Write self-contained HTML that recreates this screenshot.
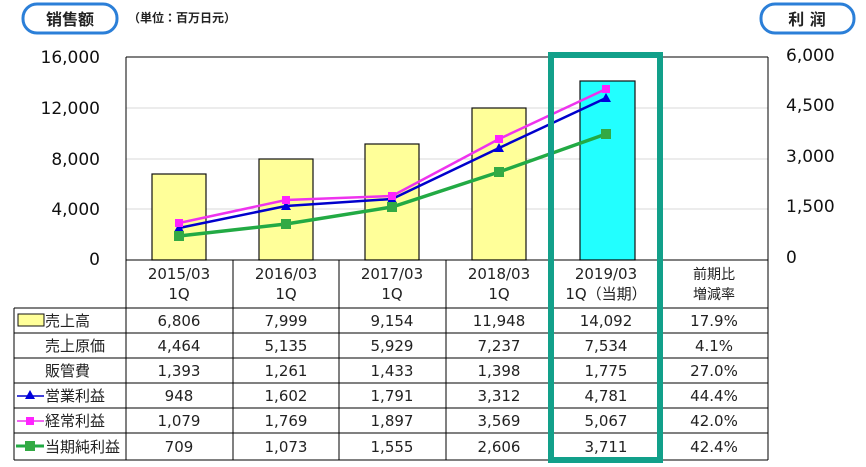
<!DOCTYPE html>
<html><head><meta charset="utf-8"><style>
body{margin:0;background:#fff;}
svg{display:block;font-family:"DejaVu Sans","Noto Sans CJK JP",sans-serif;}
</style></head><body>
<svg width="866" height="467" viewBox="0 0 866 467" xmlns="http://www.w3.org/2000/svg">
<rect width="866" height="467" fill="#fff"/>
<rect x="23" y="4" width="94" height="29" rx="14" fill="#fff" stroke="#2b7fd8" stroke-width="3"/>
<text x="70" y="25" font-size="16" font-weight="bold" text-anchor="middle" fill="#222">销售额</text>
<text x="128" y="22" font-size="12" font-weight="bold" fill="#222">（単位：百万日元）</text>
<rect x="761" y="4" width="93" height="29" rx="14" fill="#fff" stroke="#2b7fd8" stroke-width="3"/>
<text x="807" y="25" font-size="16" font-weight="bold" text-anchor="middle" fill="#222">利 润</text>
<g stroke="#d8d8d8" stroke-width="1">
<line x1="126" y1="108" x2="768" y2="108"/><line x1="126" y1="159" x2="768" y2="159"/><line x1="126" y1="209" x2="768" y2="209"/>
</g>
<g stroke="#000" stroke-width="1">
<line x1="126" y1="57" x2="768" y2="57"/>
<line x1="126" y1="57" x2="126" y2="460"/>
<line x1="768" y1="57" x2="768" y2="460"/>
</g>
<g font-size="17" fill="#111" text-anchor="end">
<text x="100" y="63">16,000</text><text x="100" y="114">12,000</text><text x="100" y="165">8,000</text><text x="100" y="215">4,000</text><text x="100" y="265">0</text>
</g>
<g font-size="17" fill="#111">
<text x="786" y="61">6,000</text><text x="786" y="111">4,500</text><text x="786" y="162">3,000</text><text x="786" y="212">1,500</text><text x="786" y="263">0</text>
</g>
<g stroke="#111" stroke-width="1.2">
<rect x="152" y="174" width="54" height="86" fill="#ffff99"/>
<rect x="259" y="159" width="54" height="101" fill="#ffff99"/>
<rect x="365" y="144" width="54" height="116" fill="#ffff99"/>
<rect x="472" y="108" width="54" height="152" fill="#ffff99"/>
<rect x="580" y="81" width="55" height="179" fill="#22ffff"/>
</g>
<polyline points="179,228 286,206 392,199 499,148 606,98" fill="none" stroke="#0000cc" stroke-width="2.5"/>
<polyline points="179,223 286,200 392,196 499,139 606,89" fill="none" stroke="#ee33ee" stroke-width="2.5"/>
<polyline points="179,236 286,224 392,207 499,172 606,134" fill="none" stroke="#22aa44" stroke-width="3.5"/>
<g fill="#0000dd"><polygon points="179,223 174,232 184,232"/><polygon points="286,201 281,210 291,210"/><polygon points="392,194 387,203 397,203"/><polygon points="499,143 494,152 504,152"/><polygon points="606,93 601,102 611,102"/></g>
<g fill="#ff22ff"><rect x="175" y="219" width="8" height="8"/><rect x="282" y="196" width="8" height="8"/><rect x="388" y="192" width="8" height="8"/><rect x="495" y="135" width="8" height="8"/><rect x="602" y="85" width="8" height="8"/></g>
<g fill="#33aa44"><rect x="174" y="231" width="10" height="10"/><rect x="281" y="219" width="10" height="10"/><rect x="387" y="202" width="10" height="10"/><rect x="494" y="167" width="10" height="10"/><rect x="601" y="129" width="10" height="10"/></g>
<g stroke="#000" stroke-width="1">
<line x1="126" y1="260" x2="768" y2="260"/>
<line x1="14" y1="308" x2="768" y2="308"/>
<line x1="14" y1="333" x2="768" y2="333"/><line x1="14" y1="358" x2="768" y2="358"/><line x1="14" y1="383" x2="768" y2="383"/><line x1="14" y1="408" x2="768" y2="408"/><line x1="14" y1="433" x2="768" y2="433"/><line x1="14" y1="460" x2="768" y2="460"/>
<line x1="14" y1="308" x2="14" y2="460"/>
<line x1="233" y1="260" x2="233" y2="460"/><line x1="339" y1="260" x2="339" y2="460"/><line x1="446" y1="260" x2="446" y2="460"/><line x1="553" y1="260" x2="553" y2="460"/><line x1="660" y1="260" x2="660" y2="460"/>
</g>
<g font-size="15" fill="#222" text-anchor="middle">
<text x="179" y="279">2015/03</text><text x="179" y="299">1Q</text>
<text x="286" y="279">2016/03</text><text x="286" y="299">1Q</text>
<text x="392" y="279">2017/03</text><text x="392" y="299">1Q</text>
<text x="499" y="279">2018/03</text><text x="499" y="299">1Q</text>
<text x="606" y="279">2019/03</text><text x="606" y="299">1Q（当期）</text>
<text x="714" y="279" font-size="14">前期比</text><text x="714" y="299" font-size="14">増減率</text>
</g>
<g font-size="15" fill="#222" text-anchor="middle">
<text x="179" y="326">6,806</text><text x="286" y="326">7,999</text><text x="392" y="326">9,154</text><text x="499" y="326">11,948</text><text x="606" y="326">14,092</text><text x="714" y="326">17.9%</text>
<text x="179" y="351">4,464</text><text x="286" y="351">5,135</text><text x="392" y="351">5,929</text><text x="499" y="351">7,237</text><text x="606" y="351">7,534</text><text x="714" y="351">4.1%</text>
<text x="179" y="376">1,393</text><text x="286" y="376">1,261</text><text x="392" y="376">1,433</text><text x="499" y="376">1,398</text><text x="606" y="376">1,775</text><text x="714" y="376">27.0%</text>
<text x="179" y="401">948</text><text x="286" y="401">1,602</text><text x="392" y="401">1,791</text><text x="499" y="401">3,312</text><text x="606" y="401">4,781</text><text x="714" y="401">44.4%</text>
<text x="179" y="426">1,079</text><text x="286" y="426">1,769</text><text x="392" y="426">1,897</text><text x="499" y="426">3,569</text><text x="606" y="426">5,067</text><text x="714" y="426">42.0%</text>
<text x="179" y="452">709</text><text x="286" y="452">1,073</text><text x="392" y="452">1,555</text><text x="499" y="452">2,606</text><text x="606" y="452">3,711</text><text x="714" y="452">42.4%</text>
</g>
<g font-size="15" fill="#222">
<rect x="18" y="314" width="26" height="12" fill="#ffff99" stroke="#111"/>
<text x="45" y="326">売上高</text>
<text x="45" y="351">売上原価</text>
<text x="45" y="376">販管費</text>
<line x1="17" y1="396" x2="44" y2="396" stroke="#0000cc" stroke-width="1.5"/><polygon points="30,390 25,399 35,399" fill="#0000dd"/>
<text x="45" y="401">営業利益</text>
<line x1="17" y1="421" x2="44" y2="421" stroke="#ee33ee" stroke-width="1.5"/><rect x="26" y="417" width="8" height="8" fill="#ff22ff"/>
<text x="45" y="426">経常利益</text>
<line x1="16" y1="446" x2="44" y2="446" stroke="#22aa44" stroke-width="3"/><rect x="25" y="441" width="10" height="10" fill="#33aa44"/>
<text x="45" y="452">当期純利益</text>
</g>
<rect x="551" y="55" width="109" height="405" fill="none" stroke="#12a08a" stroke-width="6"/>
</svg>
</body></html>
